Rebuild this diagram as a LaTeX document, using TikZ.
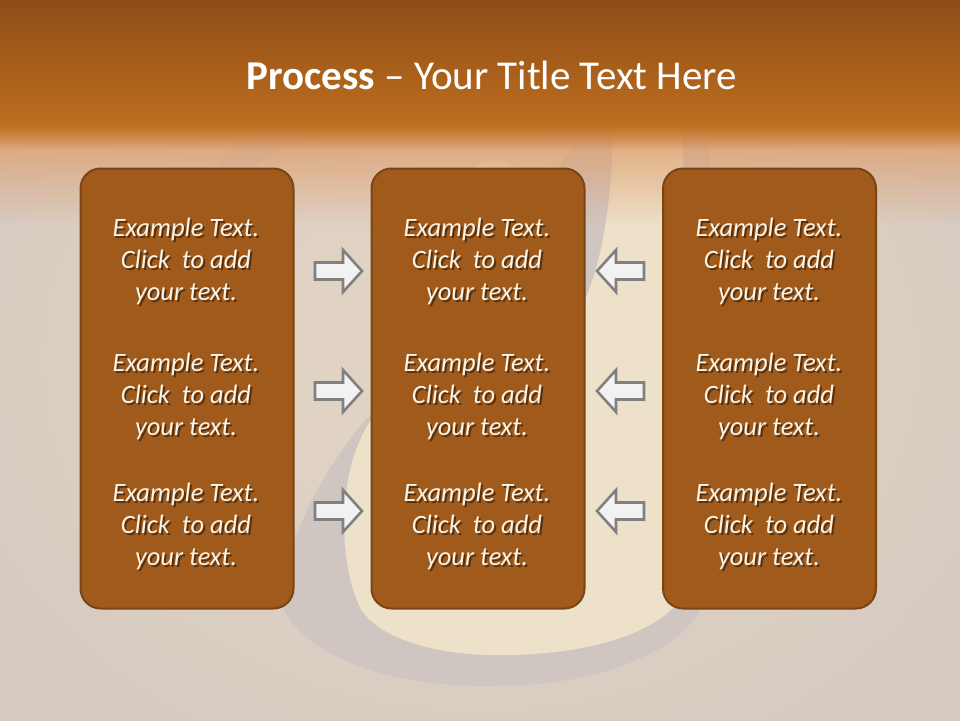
\documentclass[tikz,border=0pt]{standalone}
\usepackage{fontspec}
\setmainfont{Carlito}
\usetikzlibrary{fadings}
\definecolor{bandtop}{HTML}{8A4915}
\definecolor{bandbot}{HTML}{BE6F1F}
\definecolor{peach}{HTML}{DE9E6C}
\definecolor{bgmid}{HTML}{E4D6C5}
\definecolor{bgedge}{HTML}{D6C9C0}
\definecolor{boxfill}{HTML}{A05A1B}
\definecolor{boxline}{HTML}{7A4415}
\definecolor{txtcol}{HTML}{FBF4E6}
\definecolor{arrfill}{HTML}{F2F2F2}
\definecolor{arrline}{HTML}{808080}
\definecolor{ampband}{HTML}{CFC5C1}
\definecolor{ampin}{HTML}{EDE1C9}
\tikzfading[name=fadedown, top color=transparent!0, bottom color=transparent!100]
\tikzset{
  procbox/.style={draw=boxline, line width=2pt, fill=boxfill, rounded corners=20pt,
    minimum width=213pt, minimum height=440pt, inner sep=0pt},
  bodytext/.style={align=center, text=txtcol, inner sep=0pt,
    font=\fontsize{26.5}{32}\selectfont\itshape},
  shadowtext/.style={bodytext, text=black, opacity=0.45},
  blockarrow/.style={draw=arrline, fill=arrfill, line width=2.6pt, line join=miter},
  titletext/.style={text=white, inner sep=0pt, font=\fontsize{41}{44}\selectfont}
}
\newcommand\btext[3]{%
  \node[shadowtext] (#3s) at (#1+2,#2+2) {Example Text.\\Click\ \ to add\\your text.};
  \node[bodytext] (#3) at (#1,#2) {Example Text.\\Click\ \ to add\\your text.};}
\newcommand\rarr[2]{%
  \draw[blockarrow] (#1,#2-8.5) -- (#1+28,#2-8.5) -- (#1+28,#2-21) -- (#1+47,#2)
    -- (#1+28,#2+21) -- (#1+28,#2+8.5) -- (#1,#2+8.5) -- cycle;}
\newcommand\larr[2]{%
  \draw[blockarrow] (#1,#2-8.5) -- (#1-28,#2-8.5) -- (#1-28,#2-21) -- (#1-47,#2)
    -- (#1-28,#2+21) -- (#1-28,#2+8.5) -- (#1,#2+8.5) -- cycle;}
\begin{document}
\begin{tikzpicture}[x=1pt,y=-1pt]
\useasboundingbox (0,0) rectangle (960,720);
% background
\shade[inner color=bgmid, outer color=bgedge] (-120,-120) rectangle (1080,840);
% faint ampersand in the background
% lower bowl: outer band
\fill[ampband] (390,395) .. controls (330,450) and (285,540) .. (280,600)
  .. controls (300,660) and (400,688) .. (495,686)
  .. controls (600,686) and (680,650) .. (700,610)
  .. controls (720,500) and (715,250) .. (708,110) -- (600,110) -- cycle;
% top loop band
\draw[ampband, line width=28pt, line cap=round]
  (585,300) .. controls (615,230) and (615,150) .. (560,122)
  .. controls (470,95) and (300,105) .. (240,160)
  .. controls (205,195) and (200,260) .. (215,320);
% bowl interior and diagonal stroke
\fill[ampin] (614,110) -- (680,110)
  .. controls (690,250) and (700,450) .. (680,600)
  .. controls (650,640) and (570,656) .. (495,655)
  .. controls (420,655) and (365,630) .. (357,600)
  .. controls (340,560) and (335,470) .. (373,417)
  .. controls (420,360) and (520,320) .. (585,300)
  .. controls (610,240) and (612,170) .. (614,110) -- cycle;
\fill[ampin] (495,190) circle[radius=30pt];
% title band
\fill[peach, path fading=fadedown] (-10,120) rectangle (970,225);
\shade[top color=bandtop, bottom color=bandbot] (-10,-10) rectangle (970,126);
\fill[bandbot, path fading=fadedown] (-10,124) rectangle (970,150);
\node[titletext] (title) at (492,75) {\textbf{Process} -- Your Title Text Here};
% boxes
\node[procbox] (L) at (187,388.5) {};
\node[procbox] (M) at (478,388.5) {};
\node[procbox] (R) at (769.5,388.5) {};
% texts
\btext{186}{261}{l1}
\btext{186}{396}{l2}
\btext{186}{526}{l3}
\btext{477}{261}{m1}
\btext{477}{396}{m2}
\btext{477}{526}{m3}
\btext{769}{261}{r1}
\btext{769}{396}{r2}
\btext{769}{526}{r3}
% arrows
\rarr{315}{271}
\rarr{315}{391}
\rarr{315}{511}
\larr{644}{271}
\larr{644}{391}
\larr{644}{511}
\end{tikzpicture}
\end{document}
